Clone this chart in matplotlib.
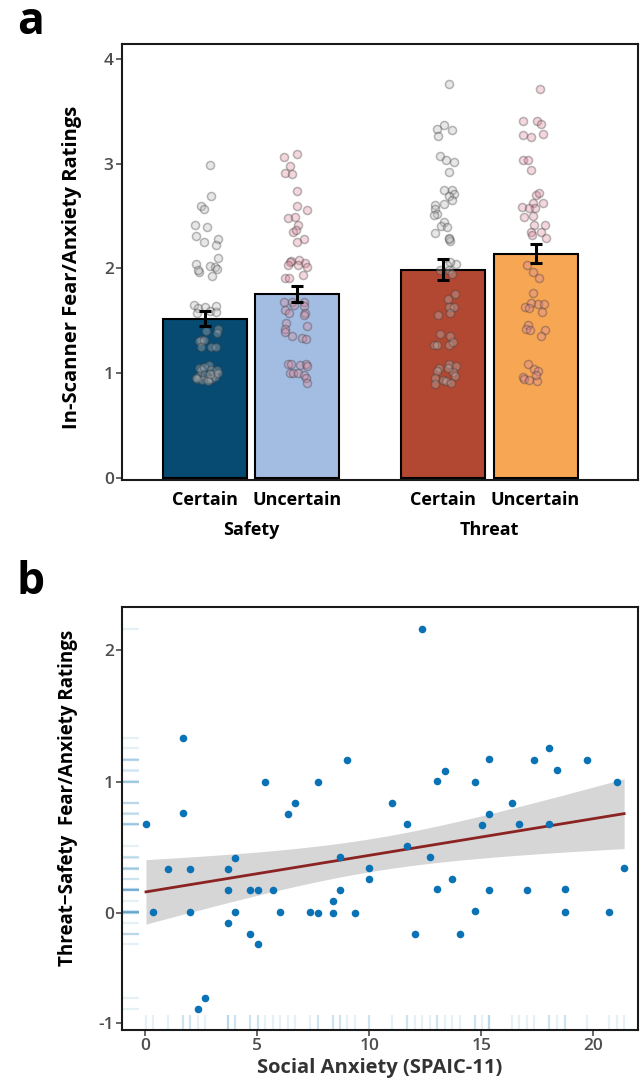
import numpy as np
import matplotlib
matplotlib.use("Agg")
import matplotlib.pyplot as plt
from matplotlib.transforms import blended_transform_factory

plt.rcParams['font.family'] = ['Open Sans', 'DejaVu Sans']

# ---------------- Panel a data ----------------
conditions = ["Certain", "Uncertain", "Certain", "Uncertain"]
groups = ["Safety", "Threat"]
bar_means = [1.52, 1.753, 1.99, 2.14]
bar_se = [0.072, 0.075, 0.10, 0.092]
bar_colors = ["#074a72", "#a3bde2", "#b34832", "#f7a654"]

sc_jit = [0.05, 0.07, -0.04, -0.01, -0.11, 0.02, -0.10, -0.01, 0.14, 0.12, 0.14, -0.10, -0.07, -0.08, 0.05, 0.11, 0.13, 0.08,
          -0.12, -0.08, 0.00, 0.12, -0.09, 0.05, 0.12, 0.14, 0.01, 0.13, -0.04, -0.06, -0.01, -0.04, 0.06, 0.12,
          -0.07, -0.04, 0.04, -0.01, 0.06, 0.10, 0.13, -0.06, 0.00, 0.03, -0.09, -0.03, 0.07, 0.11, 0.03, 0.05, 0.14, -0.10]
sc_val = [2.99, 2.69, 2.60, 2.57, 2.42, 2.40, 2.31, 2.25, 2.28, 2.22, 2.10, 2.04, 1.97, 1.985, 2.02, 2.01, 1.995, 1.93,
          1.65, 1.625, 1.635, 1.645, 1.57, 1.59, 1.58, 1.42, 1.40, 1.38, 1.32, 1.31, 1.32, 1.25, 1.25, 1.25,
          1.05, 1.03, 1.08, 1.06, 1.03, 0.99, 1.03, 0.97, 0.98, 0.94, 0.94, 0.93, 0.94, 0.96, 0.92, 0.99, 1.00, 0.95]

su_jit = [-0.15, -0.01, -0.08, -0.13, -0.06, 0.00, 0.00, 0.10, -0.10, -0.03, 0.01, -0.05, -0.02, 0.07, -0.01, -0.07, -0.08,
          -0.10, 0.02, 0.08, 0.01, 0.10, 0.06, -0.13, -0.09, -0.15, -0.06, -0.04, 0.07, 0.07, -0.13, -0.09, 0.08, 0.07,
          0.10, -0.12, -0.13, -0.14, -0.06, 0.05, 0.09, -0.10, -0.07, 0.03, 0.09, 0.10, -0.08, -0.05, 0.01, 0.07, 0.09, 0.10]
su_val = [3.07, 3.09, 2.98, 2.91, 2.90, 2.74, 2.60, 2.56, 2.48, 2.49, 2.42, 2.35, 2.37, 2.28, 2.25, 2.07, 2.06,
          2.03, 2.08, 2.05, 2.03, 2.01, 1.94, 1.91, 1.91, 1.68, 1.68, 1.65, 1.68, 1.64, 1.60, 1.57, 1.57, 1.555,
          1.45, 1.48, 1.42, 1.39, 1.35, 1.34, 1.33, 1.09, 1.09, 1.08, 1.09, 1.07, 1.00, 1.00, 1.00, 0.98, 0.95, 0.91]

tc_jit = [0.07, 0.01, -0.06, -0.05, 0.10, -0.03, 0.03, 0.12, 0.06, 0.01, 0.10, 0.12, 0.06, 0.10, 0.01, -0.09, -0.09, -0.06,
          -0.10, 0.01, -0.02, 0.04, -0.09, 0.06, 0.08, 0.06, 0.14, 0.08, 0.04, 0.06, 0.10, -0.03, 0.13, 0.05, 0.06, 0.12,
          -0.05, 0.08, -0.03, 0.08, -0.10, -0.06, 0.07, 0.11, -0.04, 0.06, 0.14, -0.06, 0.11, -0.09, 0.00, 0.03, 0.09,
          -0.09, 0.13, 0.05]
tc_val = [3.76, 3.37, 3.33, 3.27, 3.32, 3.08, 3.04, 3.02, 2.92, 2.75, 2.75, 2.71, 2.69, 2.65, 2.62, 2.61, 2.57, 2.52,
          2.51, 2.44, 2.41, 2.40, 2.34, 2.29, 2.26, 2.28, 2.04, 2.06, 2.03, 1.99, 1.95, 1.99, 1.76, 1.71, 1.63, 1.63,
          1.56, 1.57, 1.37, 1.35, 1.27, 1.27, 1.27, 1.30, 1.05, 1.09, 1.07, 1.02, 1.01, 0.95, 0.93, 0.92, 0.91,
          0.90, 0.97, 1.05]

tu_jit = [0.05, -0.13, 0.02, 0.06, -0.14, -0.05, 0.08, -0.13, -0.08, -0.05, 0.01, 0.04, 0.08, -0.03, -0.15, -0.07, -0.01,
          -0.12, -0.03, -0.02, 0.10, -0.05, 0.06, -0.04, 0.11, -0.09, -0.03, 0.04, -0.03, -0.05, 0.03, 0.09, -0.11,
          -0.07, 0.07, -0.08, -0.10, -0.06, 0.10, 0.06, -0.08, -0.02, 0.03, -0.14, -0.12, -0.07, 0.02, 0.00]
tu_val = [3.72, 3.41, 3.41, 3.38, 3.28, 3.26, 3.29, 3.04, 3.04, 2.94, 2.70, 2.72, 2.63, 2.63, 2.59, 2.58, 2.58,
          2.49, 2.50, 2.42, 2.42, 2.35, 2.35, 2.32, 2.29, 2.03, 1.97, 1.91, 1.77, 1.67, 1.66, 1.66, 1.63,
          1.62, 1.58, 1.46, 1.42, 1.41, 1.41, 1.35, 1.09, 1.04, 1.02, 0.96, 0.94, 0.93, 0.92, 0.98]

point_fill = ["#bdbdbd", "#e08a9f", "#bdbdbd", "#e08a9f"]

# ---------------- Panel b data ----------------
spaic = [0.03, 0.34, 1.01, 1.68, 1.68, 2.01, 2.01, 2.35, 2.68, 3.68, 3.68, 3.68, 4.02, 4.02, 4.69, 4.69,
         5.03, 5.03, 5.36, 5.68, 6.03, 6.35, 6.70, 7.35, 7.69, 7.69, 8.36, 8.36, 8.69, 8.69, 9.02, 9.36,
         9.97, 9.97, 11.03, 11.70, 11.70, 12.02, 12.35, 12.69, 13.02, 13.36, 13.02, 13.69, 14.03, 14.70, 14.70,
         15.03, 15.36, 15.36, 15.36, 16.37, 16.70, 17.04, 17.37, 18.04, 18.04, 18.38, 18.71, 18.71, 19.70,
         20.70, 21.04, 21.37]
diff = [0.677, 0.01, 0.34, 1.33, 0.76, 0.34, 0.01, -0.728, -0.645, 0.34, 0.178, -0.07, 0.423, 0.01, -0.154, 0.178,
        0.178, -0.234, 1.0, 0.178, 0.01, 0.755, 0.838, 0.01, 0.0, 1.0, 0.0, 0.095, 0.178, 0.43, 1.165, 0.0,
        0.345, 0.26, 0.838, 0.677, 0.508, -0.154, 2.155, 0.43, 1.007, 1.082, 0.184, 0.26, -0.154, 1.0, 0.017,
        0.674, 0.755, 1.17, 0.178, 0.838, 0.677, 0.178, 1.165, 1.256, 0.677, 1.085, 0.184, 0.01, 1.165,
        0.01, 1.0, 0.345]

yticks_b = [-0.83, 0, 1, 2]
ytick_labels_b = ["-1", "0", "1", "2"]
xticks_b = [0, 5, 10, 15, 20]

# ---------------- Figure ----------------
W, H = 642, 1084
fig = plt.figure(figsize=(W / 100, H / 100), dpi=100)

def axes_px(left, top, right, bottom):
    return fig.add_axes([left / W, 1 - bottom / H, (right - left) / W, (bottom - top) / H])

tick_color = "#4d4d4d"
tick_weight = "semibold"

# ---- Panel a ----
axa = axes_px(122, 44, 638, 480)
xpos = [0.0, 1.0, 2.573, 3.573]
axa.bar(xpos, bar_means, width=0.908, color=bar_colors, edgecolor="black", linewidth=1.5, zorder=2)
for xp, jit, val, fc in zip(xpos, [sc_jit, su_jit, tc_jit, tu_jit], [sc_val, su_val, tc_val, tu_val], point_fill):
    axa.scatter(xp + np.array(jit), val, s=34, facecolor=fc, edgecolor="#3a3a3a", linewidth=1.1,
                alpha=0.35, zorder=3)
axa.errorbar(xpos, bar_means, yerr=bar_se, fmt="none", ecolor="black", elinewidth=2.2, capsize=4.5,
             capthick=2.2, zorder=4)
axa.set_xlim(-0.897, 4.681)
axa.set_ylim(-0.022, 4.146)
axa.set_yticks([0, 1, 2, 3, 4])
axa.set_yticklabels(["0", "1", "2", "3", "4"], fontweight=tick_weight)
axa.set_xticks(xpos)
axa.set_xticklabels(conditions, fontsize=13, fontweight="bold", color="black")
axa.tick_params(axis="x", length=0, pad=8)
axa.tick_params(axis="y", length=4, width=1.2, color=tick_color, labelcolor=tick_color, labelsize=12.5, pad=2)
for sp in axa.spines.values():
    sp.set_linewidth(1.5)
    sp.set_color("#1a1a1a")
# group labels
gtrans = blended_transform_factory(axa.transData, fig.transFigure)
for gi, g in enumerate(groups):
    gx = (xpos[2 * gi] + xpos[2 * gi + 1]) / 2
    axa.text(gx, 1 - 530 / H, g, transform=gtrans, fontsize=13, fontweight="bold", ha="center", va="center")

fig.text(72 / W, 1 - 267 / H, "In-Scanner Fear/Anxiety Ratings", rotation=90, ha="center", va="center",
         fontsize=14.5, fontweight="bold")
fig.text(17 / W, 1 - 22 / H, "a", fontsize=32, fontweight="bold", ha="left", va="center")

# ---- Panel b ----
axb = axes_px(122, 607, 638, 1030)
xs = np.array(spaic)
ys = np.array(diff)
n = len(xs)
slope, intercept = np.polyfit(xs, ys, 1)
xg = np.linspace(xs.min(), xs.max(), 100)
yhat = intercept + slope * xg
resid = ys - (intercept + slope * xs)
s_err = np.sqrt(np.sum(resid ** 2) / (n - 2))
sxx = np.sum((xs - xs.mean()) ** 2)
t_crit = 1.999
band = t_crit * s_err * np.sqrt(1 / n + (xg - xs.mean()) ** 2 / sxx)
axb.fill_between(xg, yhat - band, yhat + band, color="#d6d6d6", linewidth=0, zorder=1)
axb.plot(xg, yhat, color="#8b2323", linewidth=2.0, zorder=2)
axb.scatter(xs, ys, s=30, color="#0a72b5", linewidth=0, zorder=3)

rug_color = "#2c8ac4"
tx = blended_transform_factory(axb.transData, axb.transAxes)
for xv in xs:
    axb.plot([xv, xv], [0, 0.035], color=rug_color, alpha=0.12, linewidth=1.6, transform=tx,
             solid_capstyle="butt", zorder=1)
ty = blended_transform_factory(axb.transAxes, axb.transData)
for yv in ys:
    axb.plot([0, 0.032], [yv, yv], color=rug_color, alpha=0.12, linewidth=1.6, transform=ty,
             solid_capstyle="butt", zorder=1)

axb.set_xlim(-1.04, 21.99)
axb.set_ylim(-0.884, 2.323)
axb.set_xticks(xticks_b)
axb.set_xticklabels([str(v) for v in xticks_b], fontweight=tick_weight)
axb.set_yticks(yticks_b)
axb.set_yticklabels(ytick_labels_b, fontweight=tick_weight)
axb.tick_params(length=4, width=1.2, color=tick_color, labelcolor=tick_color, labelsize=12.5, pad=2)
for sp in axb.spines.values():
    sp.set_linewidth(1.5)
    sp.set_color("#1a1a1a")

fig.text(68 / W, 1 - 798 / H, "Threat\u2212Safety  Fear/Anxiety Ratings", rotation=90, ha="center",
         va="center", fontsize=13.5, fontweight="bold")
fig.text(380 / W, 1 - 1068 / H, "Social Anxiety (SPAIC-11)", ha="center", va="center", fontsize=14.5,
         fontweight="bold", color="#333333")
fig.text(17 / W, 1 - 582 / H, "b", fontsize=32, fontweight="bold", ha="left", va="center")

fig.savefig("out.png", dpi=100)
